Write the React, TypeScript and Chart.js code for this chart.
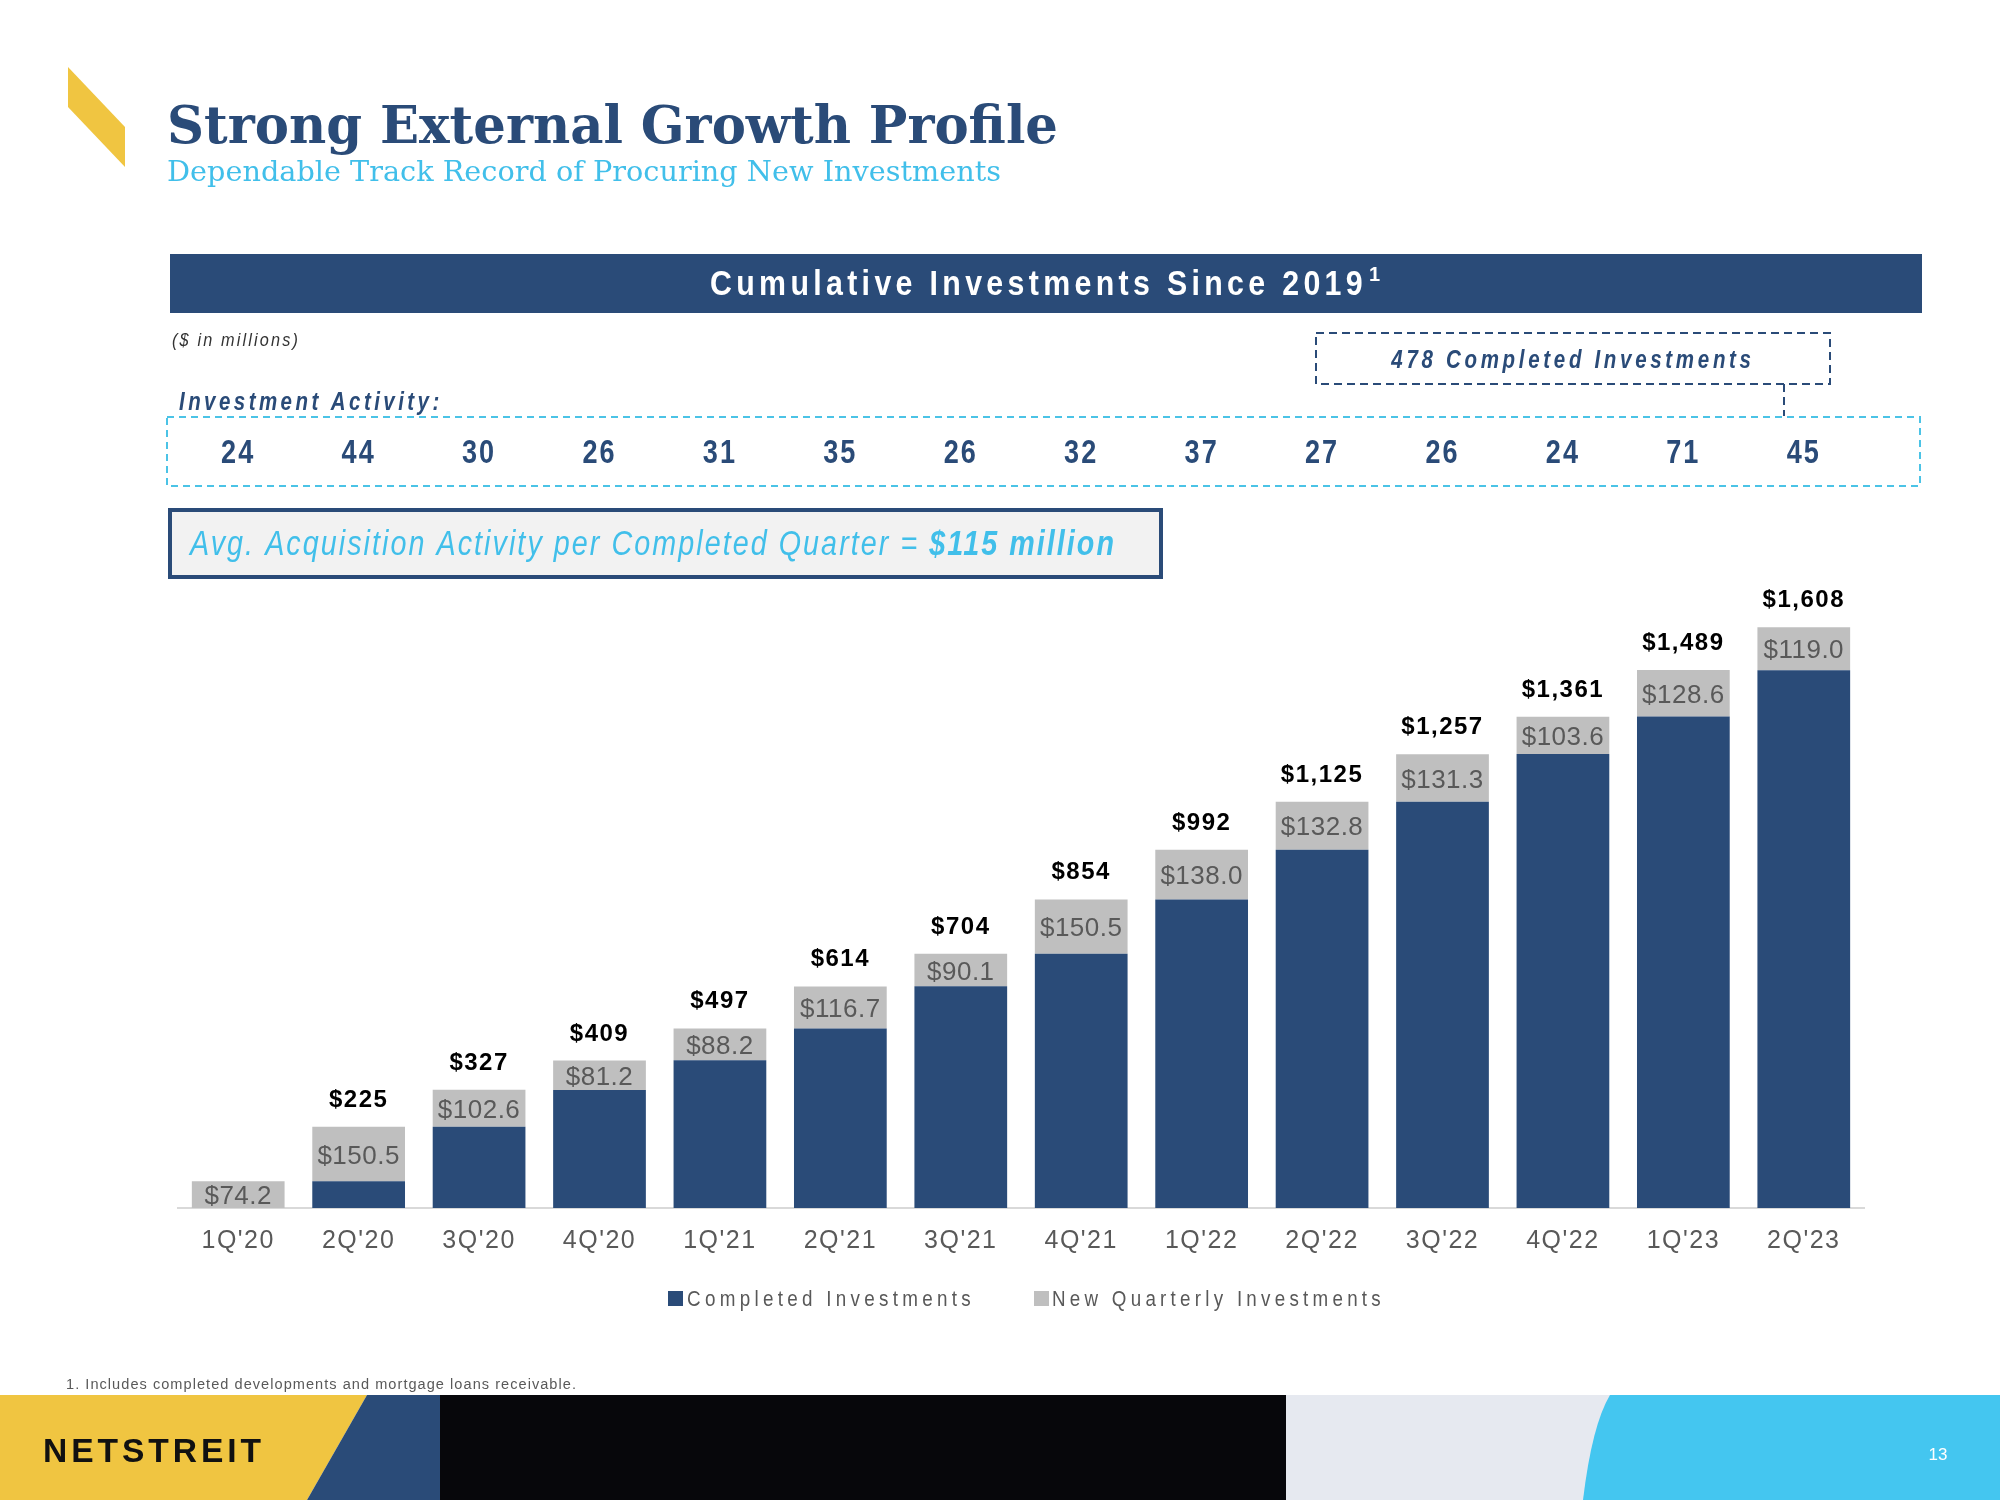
import React, { useEffect, useRef } from "react";
import { Chart, registerables } from "chart.js";

Chart.register(...registerables);

// ---------- data ----------
const categories = ["1Q'20", "2Q'20", "3Q'20", "4Q'20", "1Q'21", "2Q'21", "3Q'21", "4Q'21", "1Q'22", "2Q'22", "3Q'22", "4Q'22", "1Q'23", "2Q'23"];
const completedInvestments = [0, 74.2, 225, 327, 409, 497, 614, 704, 854, 992, 1125, 1257, 1361, 1489];
const newQuarterlyInvestments = [74.2, 150.5, 102.6, 81.2, 88.2, 116.7, 90.1, 150.5, 138.0, 132.8, 131.3, 103.6, 128.6, 119.0];
const cumulativeTotals = [null, 225, 327, 409, 497, 614, 704, 854, 992, 1125, 1257, 1361, 1489, 1608];
const investmentActivity = [24, 44, 30, 26, 31, 35, 26, 32, 37, 27, 26, 24, 71, 45];

// ---------- styles ----------
const NAVY = "#2A4B78";
const GRAY = "#BFBFBF";
const LBLUE = "#41BFEA";
const CYAN = "#4BC3E6";
const YELLOW = "#F0C541";
const TXTGRAY = "#595959";
const SANS = '"Liberation Sans", Arial, Helvetica, sans-serif';
const SERIF = '"DejaVu Serif", "Liberation Serif", serif';

function txt(ctx: CanvasRenderingContext2D, s: string, x: number, y: number, font: string, color: string, o: any = {}) {
  ctx.save();
  ctx.font = font;
  ctx.fillStyle = color;
  (ctx as any).letterSpacing = (o.spacing || 0) + "px";
  ctx.textBaseline = "alphabetic";
  ctx.textAlign = "left";
  const w = ctx.measureText(s).width;
  const sx = o.fit ? o.fit / w : o.sx || 1;
  const ww = w * sx;
  const x0 = o.align === "center" ? x - ww / 2 : o.align === "right" ? x - ww : x;
  ctx.translate(x0, y);
  ctx.scale(sx, 1);
  ctx.fillText(s, 0, 0);
  ctx.restore();
  return ww;
}

function poly(ctx: CanvasRenderingContext2D, pts: number[][], color: string) {
  ctx.beginPath();
  pts.forEach((p, i) => (i ? ctx.lineTo(p[0], p[1]) : ctx.moveTo(p[0], p[1])));
  ctx.closePath();
  ctx.fillStyle = color;
  ctx.fill();
}

function dashRect(ctx: CanvasRenderingContext2D, x: number, y: number, w: number, h: number, color: string, dash: number[], lw: number) {
  ctx.save();
  ctx.strokeStyle = color;
  ctx.lineWidth = lw;
  ctx.setLineDash(dash);
  ctx.strokeRect(x, y, w, h);
  ctx.restore();
}

const decor = {
  id: "decor",
  beforeDraw(chart: any) {
    const ctx: CanvasRenderingContext2D = chart.ctx;
    const xs = chart.scales.x;
    ctx.save();
    (ctx as any).letterSpacing = "0px";
    ctx.fillStyle = "#fff";
    ctx.fillRect(0, 0, 2000, 1500);

    // logo slash
    poly(ctx, [[68, 67], [125, 127], [125, 167], [68, 107]], YELLOW);

    // titles
    txt(ctx, "Strong External Growth Profile", 167, 143, `bold 52px ${SERIF}`, NAVY, { fit: 891 });
    txt(ctx, "Dependable Track Record of Procuring New Investments", 167, 181, `28px ${SERIF}`, LBLUE, { fit: 834 });

    // banner
    ctx.fillStyle = NAVY;
    ctx.fillRect(170, 254, 1752, 59);
    txt(ctx, "Cumulative Investments Since 2019", 710, 295, `bold 35px ${SANS}`, "#fff", { spacing: 5, fit: 657 });
    txt(ctx, "1", 1369, 281, `bold 20px ${SANS}`, "#fff");

    txt(ctx, "($ in millions)", 172, 346, `italic 19px ${SANS}`, "#333", { spacing: 2.5, fit: 128 });

    // 478 completed box
    dashRect(ctx, 1316, 333, 514, 51, NAVY, [8, 5], 2);
    ctx.save();
    ctx.strokeStyle = NAVY;
    ctx.lineWidth = 2;
    ctx.setLineDash([8, 5]);
    ctx.beginPath();
    ctx.moveTo(1784, 384);
    ctx.lineTo(1784, 416);
    ctx.stroke();
    ctx.restore();
    txt(ctx, "478 Completed Investments", 1573, 368, `italic bold 25px ${SANS}`, NAVY, { align: "center", spacing: 4.5, sx: 0.82 });

    // investment activity
    txt(ctx, "Investment Activity:", 179, 410, `italic bold 25px ${SANS}`, NAVY, { spacing: 4.2, sx: 0.82 });
    dashRect(ctx, 167, 417, 1753, 69, CYAN, [7, 5], 2);
    investmentActivity.forEach((v, i) => {
      const x = xs.getPixelForValue(i);
      txt(ctx, String(v), x, 463, `bold 33px ${SANS}`, NAVY, { align: "center", spacing: 2.5, sx: 0.82 });
    });

    // avg box
    ctx.fillStyle = "#F2F2F2";
    ctx.fillRect(168, 508, 995, 71);
    ctx.strokeStyle = NAVY;
    ctx.lineWidth = 4;
    ctx.strokeRect(170, 510, 991, 67);
    const w1 = txt(ctx, "Avg. Acquisition Activity per Completed Quarter = ", 190, 555, `italic 35px ${SANS}`, LBLUE, { spacing: 2.5, sx: 0.82 });
    txt(ctx, "$115 million", 190 + w1, 555, `italic bold 35px ${SANS}`, LBLUE, { spacing: 2.5, sx: 0.82 });

    // legend
    ctx.fillStyle = NAVY;
    ctx.fillRect(668, 1291, 15, 15);
    txt(ctx, "Completed Investments", 687, 1306, `22px ${SANS}`, TXTGRAY, { spacing: 5, fit: 288 });
    ctx.fillStyle = GRAY;
    ctx.fillRect(1034, 1291, 15, 15);
    txt(ctx, "New Quarterly Investments", 1052, 1306, `22px ${SANS}`, TXTGRAY, { spacing: 5, fit: 333 });

    // footnote
    txt(ctx, "1. Includes completed developments and mortgage loans receivable.", 66, 1389, `14px ${SANS}`, TXTGRAY, { spacing: 1, fit: 511 });

    // footer
    poly(ctx, [[0, 1395], [367, 1395], [307, 1500], [0, 1500]], YELLOW);
    poly(ctx, [[367, 1395], [440, 1395], [440, 1500], [307, 1500]], NAVY);
    ctx.fillStyle = "#07070B";
    ctx.fillRect(440, 1395, 846, 105);
    ctx.fillStyle = "#E6E9F0";
    ctx.fillRect(1286, 1395, 340, 105);
    ctx.beginPath();
    ctx.moveTo(1610, 1395);
    ctx.lineTo(2000, 1395);
    ctx.lineTo(2000, 1500);
    ctx.lineTo(1583, 1500);
    ctx.quadraticCurveTo(1592, 1425, 1610, 1395);
    ctx.closePath();
    ctx.fillStyle = "#44C6F0";
    ctx.fill();
    txt(ctx, "NETSTREIT", 43, 1462, `bold 34px ${SANS}`, "#111", { spacing: 4, fit: 222 });
    txt(ctx, "13", 1938, 1460, `17px ${SANS}`, "#fff", { align: "center" });

    ctx.restore();
    (ctx as any).letterSpacing = "1.5px";
  },
  afterDatasetsDraw(chart: any) {
    const ctx: CanvasRenderingContext2D = chart.ctx;
    const meta = chart.getDatasetMeta(1);
    meta.data.forEach((bar: any, i: number) => {
      const p = bar.getProps(["x", "y", "base"], true);
      txt(ctx, "$" + newQuarterlyInvestments[i].toFixed(1), p.x, (p.y + p.base) / 2 + 9.5, `26px ${SANS}`, TXTGRAY, { align: "center", spacing: 0.5 });
      const t = cumulativeTotals[i];
      if (t !== null) {
        txt(ctx, "$" + t.toLocaleString("en-US"), p.x, p.y - 20, `bold 24px ${SANS}`, "#000", { align: "center", spacing: 1.5 });
      }
    });
  },
};

export default function App() {
  const ref = useRef<HTMLCanvasElement>(null);
  useEffect(() => {
    document.body.style.margin = "0";
    const chart = new Chart(ref.current as HTMLCanvasElement, {
      type: "bar",
      data: {
        labels: categories,
        datasets: [
          {
            label: "Completed Investments",
            data: completedInvestments,
            backgroundColor: NAVY,
            borderWidth: 0,
            barPercentage: 0.77,
            categoryPercentage: 1,
          },
          {
            label: "New Quarterly Investments",
            data: newQuarterlyInvestments,
            backgroundColor: GRAY,
            borderWidth: 0,
            barPercentage: 0.77,
            categoryPercentage: 1,
          },
        ],
      },
      options: {
        responsive: false,
        animation: false,
        devicePixelRatio: 1,
        layout: { padding: { left: 178, right: 136, top: 558, bottom: 226 } },
        plugins: { legend: { display: false }, tooltip: { enabled: false } },
        scales: {
          x: {
            stacked: true,
            grid: { display: false, drawTicks: false },
            border: { display: true, color: "#D9D9D9", width: 2 },
            ticks: {
              color: TXTGRAY,
              font: { family: SANS, size: 25 },
              padding: 18,
              autoSkip: false,
              maxRotation: 0,
            },
          },
          y: { stacked: true, display: false, min: 0, max: 1800 },
        },
      },
      plugins: [decor as any],
    });
    return () => chart.destroy();
  }, []);
  return (
    <div style={{ position: "absolute", left: 0, top: 0, width: 2000, height: 1500, background: "#fff", overflow: "hidden" }}>
      <canvas ref={ref} width={2000} height={1500} style={{ display: "block", width: 2000, height: 1500 }} />
    </div>
  );
}
